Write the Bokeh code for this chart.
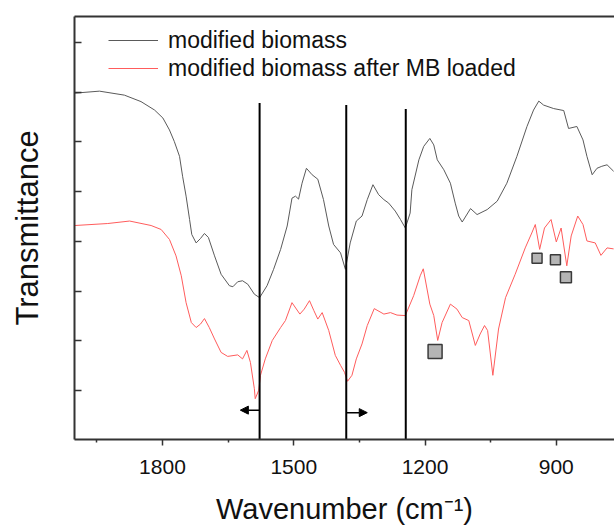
from bokeh.plotting import figure
from bokeh.models import (Range1d, FixedTicker, LinearAxis, Arrow, NormalHead,
                          Legend, LegendItem)
from bokeh.embed import file_html
from bokeh.resources import INLINE

# ---- data (wavenumber in cm-1, transmittance in arbitrary units) ----
wn_mod = [2000, 1944, 1887, 1849, 1818, 1799, 1784, 1773, 1761, 1754, 1746, 1738, 1733, 1723,
          1713, 1704, 1695, 1681, 1666, 1647, 1639, 1628, 1617, 1605, 1590, 1578, 1561, 1546,
          1530, 1515, 1504, 1496, 1489, 1481, 1471, 1458, 1445, 1432, 1420, 1409, 1393, 1382,
          1371, 1357, 1344, 1332, 1319, 1306, 1294, 1283, 1268, 1256, 1245, 1234, 1230, 1214,
          1203, 1189, 1180, 1172, 1157, 1142, 1131, 1123, 1115, 1096, 1081, 1058, 1035, 1013,
          990, 967, 952, 940, 929, 906, 883, 872, 853, 839, 830, 818, 807, 796, 784, 769]
t_mod = [6.98, 7.02, 6.94, 6.81, 6.64, 6.48, 6.24, 6.01, 5.71, 5.31, 4.91, 4.44, 4.14, 3.97,
         4.06, 4.16, 4.08, 3.71, 3.34, 3.11, 3.09, 3.19, 3.21, 3.14, 2.94, 2.87, 3.11, 3.44,
         3.84, 4.31, 4.87, 4.91, 4.85, 5.17, 5.47, 5.34, 5.25, 4.84, 4.31, 3.94, 3.77, 3.44,
         3.97, 4.41, 4.51, 4.84, 5.14, 4.94, 4.84, 4.77, 4.61, 4.44, 4.27, 4.57, 5.04, 5.64,
         5.91, 6.07, 5.94, 5.64, 5.44, 5.17, 4.77, 4.51, 4.39, 4.66, 4.54, 4.64, 4.81, 5.17,
         5.71, 6.31, 6.64, 6.82, 6.74, 6.67, 6.63, 6.27, 6.31, 6.04, 5.71, 5.34, 5.47, 5.51,
         5.54, 5.41]

wn_mb = [2000, 1925, 1875, 1826, 1803, 1784, 1769, 1757, 1746, 1734, 1723, 1713, 1704, 1693,
         1681, 1666, 1651, 1628, 1617, 1607, 1599, 1590, 1588, 1580, 1576, 1565, 1549, 1530,
         1519, 1504, 1486, 1476, 1464, 1454, 1445, 1435, 1420, 1405, 1393, 1384, 1377, 1367,
         1357, 1344, 1332, 1316, 1294, 1279, 1264, 1245, 1226, 1211, 1204, 1189, 1180, 1171,
         1161, 1142, 1127, 1115, 1100, 1085, 1074, 1064, 1057, 1045, 1032, 1016, 994, 971,
         956, 948, 938, 927, 912, 900, 889, 876, 866, 851, 839, 830, 811, 798, 784, 769]
t_mb = [4.32, 4.36, 4.41, 4.32, 4.24, 4.04, 3.71, 3.31, 2.77, 2.37, 2.27, 2.34, 2.45, 2.27,
        2.04, 1.77, 1.69, 1.72, 1.64, 1.81, 1.57, 1.04, 0.84, 1.01, 1.31, 1.64, 2.01, 2.27,
        2.41, 2.77, 2.54, 2.64, 2.81, 2.61, 2.44, 2.57, 2.21, 1.71, 1.51, 1.37, 1.19, 1.31,
        1.64, 1.94, 2.31, 2.65, 2.54, 2.57, 2.52, 2.51, 2.91, 3.31, 3.45, 2.74, 2.51, 2.01,
        2.37, 2.74, 2.64, 2.47, 2.41, 1.91, 2.14, 2.31, 2.21, 1.31, 2.24, 2.87, 3.34, 3.87,
        4.17, 4.34, 3.84, 4.27, 4.44, 3.99, 4.27, 3.51, 4.11, 4.51, 4.34, 4.01, 3.97, 3.72,
        3.87, 3.85]

# marked bands (grey squares)
sq_wn = [1177, 944, 902, 878]
sq_t = [1.79, 3.66, 3.63, 3.28]
sq_size = [14, 10, 10, 11]

# vertical reference lines
vl_wn = [1578, 1380, 1244]
vl_top = [6.78, 6.74, 6.66]

# shift arrows (start, end, level)
arrow_start = [1578, 1380]
arrow_end = [1622, 1332]
arrow_t = [0.61, 0.56]

x_ticks = [1800, 1500, 1200, 900]
x_minor = [1950, 1650, 1350, 1050, 750]
y_ticks = [1, 2, 3, 4, 5, 6, 7, 8]

FONT = "Liberation Sans"

p = figure(width=614, height=527, output_backend="svg", toolbar_location=None,
           x_range=Range1d(2001, 767), y_range=Range1d(0.02, 8.52),
           min_border_left=74, min_border_right=0, min_border_top=16, min_border_bottom=86)
p.outline_line_color = None
p.xgrid.grid_line_color = None
p.ygrid.grid_line_color = None
p.background_fill_color = "white"
p.border_fill_color = "white"

# x axis
xa = p.xaxis[0]
xa.ticker = FixedTicker(ticks=x_ticks, minor_ticks=x_minor)
xa.axis_line_width = 2
xa.axis_line_color = "#333333"
xa.major_tick_in = 0
xa.major_tick_out = 6
xa.major_tick_line_width = 1.5
xa.major_tick_line_color = "#333333"
xa.minor_tick_in = 0
xa.minor_tick_out = 3
xa.minor_tick_line_width = 1.5
xa.minor_tick_line_color = "#333333"
xa.major_label_text_font = FONT
xa.major_label_text_font_size = "21px"
xa.major_label_text_color = "#111111"
xa.major_label_standoff = 14
xa.axis_label = "Wavenumber (cm⁻¹)"
xa.axis_label_text_font = FONT
xa.axis_label_text_font_size = "29px"
xa.axis_label_text_font_style = "normal"
xa.axis_label_text_color = "#111111"
xa.axis_label_standoff = 16

# y axis
ya = p.yaxis[0]
ya.ticker = FixedTicker(ticks=y_ticks, minor_ticks=[])
ya.major_label_overrides = {t: "" for t in y_ticks}
ya.major_label_standoff = 0
ya.axis_line_width = 2
ya.axis_line_color = "#333333"
ya.major_tick_in = 7
ya.major_tick_out = 0
ya.major_tick_line_width = 1.5
ya.major_tick_line_color = "#333333"
ya.minor_tick_line_color = None
ya.axis_label = "Transmittance"
ya.axis_label_text_font = FONT
ya.axis_label_text_font_size = "31px"
ya.axis_label_text_font_style = "normal"
ya.axis_label_text_color = "#111111"
ya.axis_label_standoff = 30

# top border line
top = LinearAxis(ticker=FixedTicker(ticks=[]), axis_line_width=2, axis_line_color="#333333",
                 major_tick_line_color=None, minor_tick_line_color=None,
                 major_label_text_font_size="0px")
p.add_layout(top, "above")

# spectra
r1 = p.line(wn_mod, t_mod, line_color="#5a5a5a", line_width=1)
r2 = p.line(wn_mb, t_mb, line_color="#ff5c5c", line_width=1)

# vertical lines
p.segment(x0=vl_wn, y0=[0.02] * len(vl_wn), x1=vl_wn, y1=vl_top,
          line_color="black", line_width=2)

# arrows
for xs, xe, ya_ in zip(arrow_start, arrow_end, arrow_t):
    p.add_layout(Arrow(end=NormalHead(size=8, fill_color="black", line_color="black"),
                       x_start=xs, y_start=ya_, x_end=xe, y_end=ya_,
                       line_color="black", line_width=1.5))

# grey squares
p.scatter(sq_wn, sq_t, marker="square", size=sq_size, fill_color="#b5b5b5",
          line_color="#3a3a3a", line_width=1.5)

# legend
leg = Legend(items=[LegendItem(label="modified biomass", renderers=[r1]),
                    LegendItem(label="modified biomass after MB loaded", renderers=[r2])],
             location=(34, 357), border_line_color=None, background_fill_alpha=0,
             padding=0, margin=0, spacing=0, glyph_width=50, glyph_height=28,
             label_height=28, label_standoff=10, label_text_font=FONT,
             label_text_font_size="23px", label_text_color="#111111")
p.add_layout(leg)

open("out.html", "w").write(file_html(p, INLINE))
